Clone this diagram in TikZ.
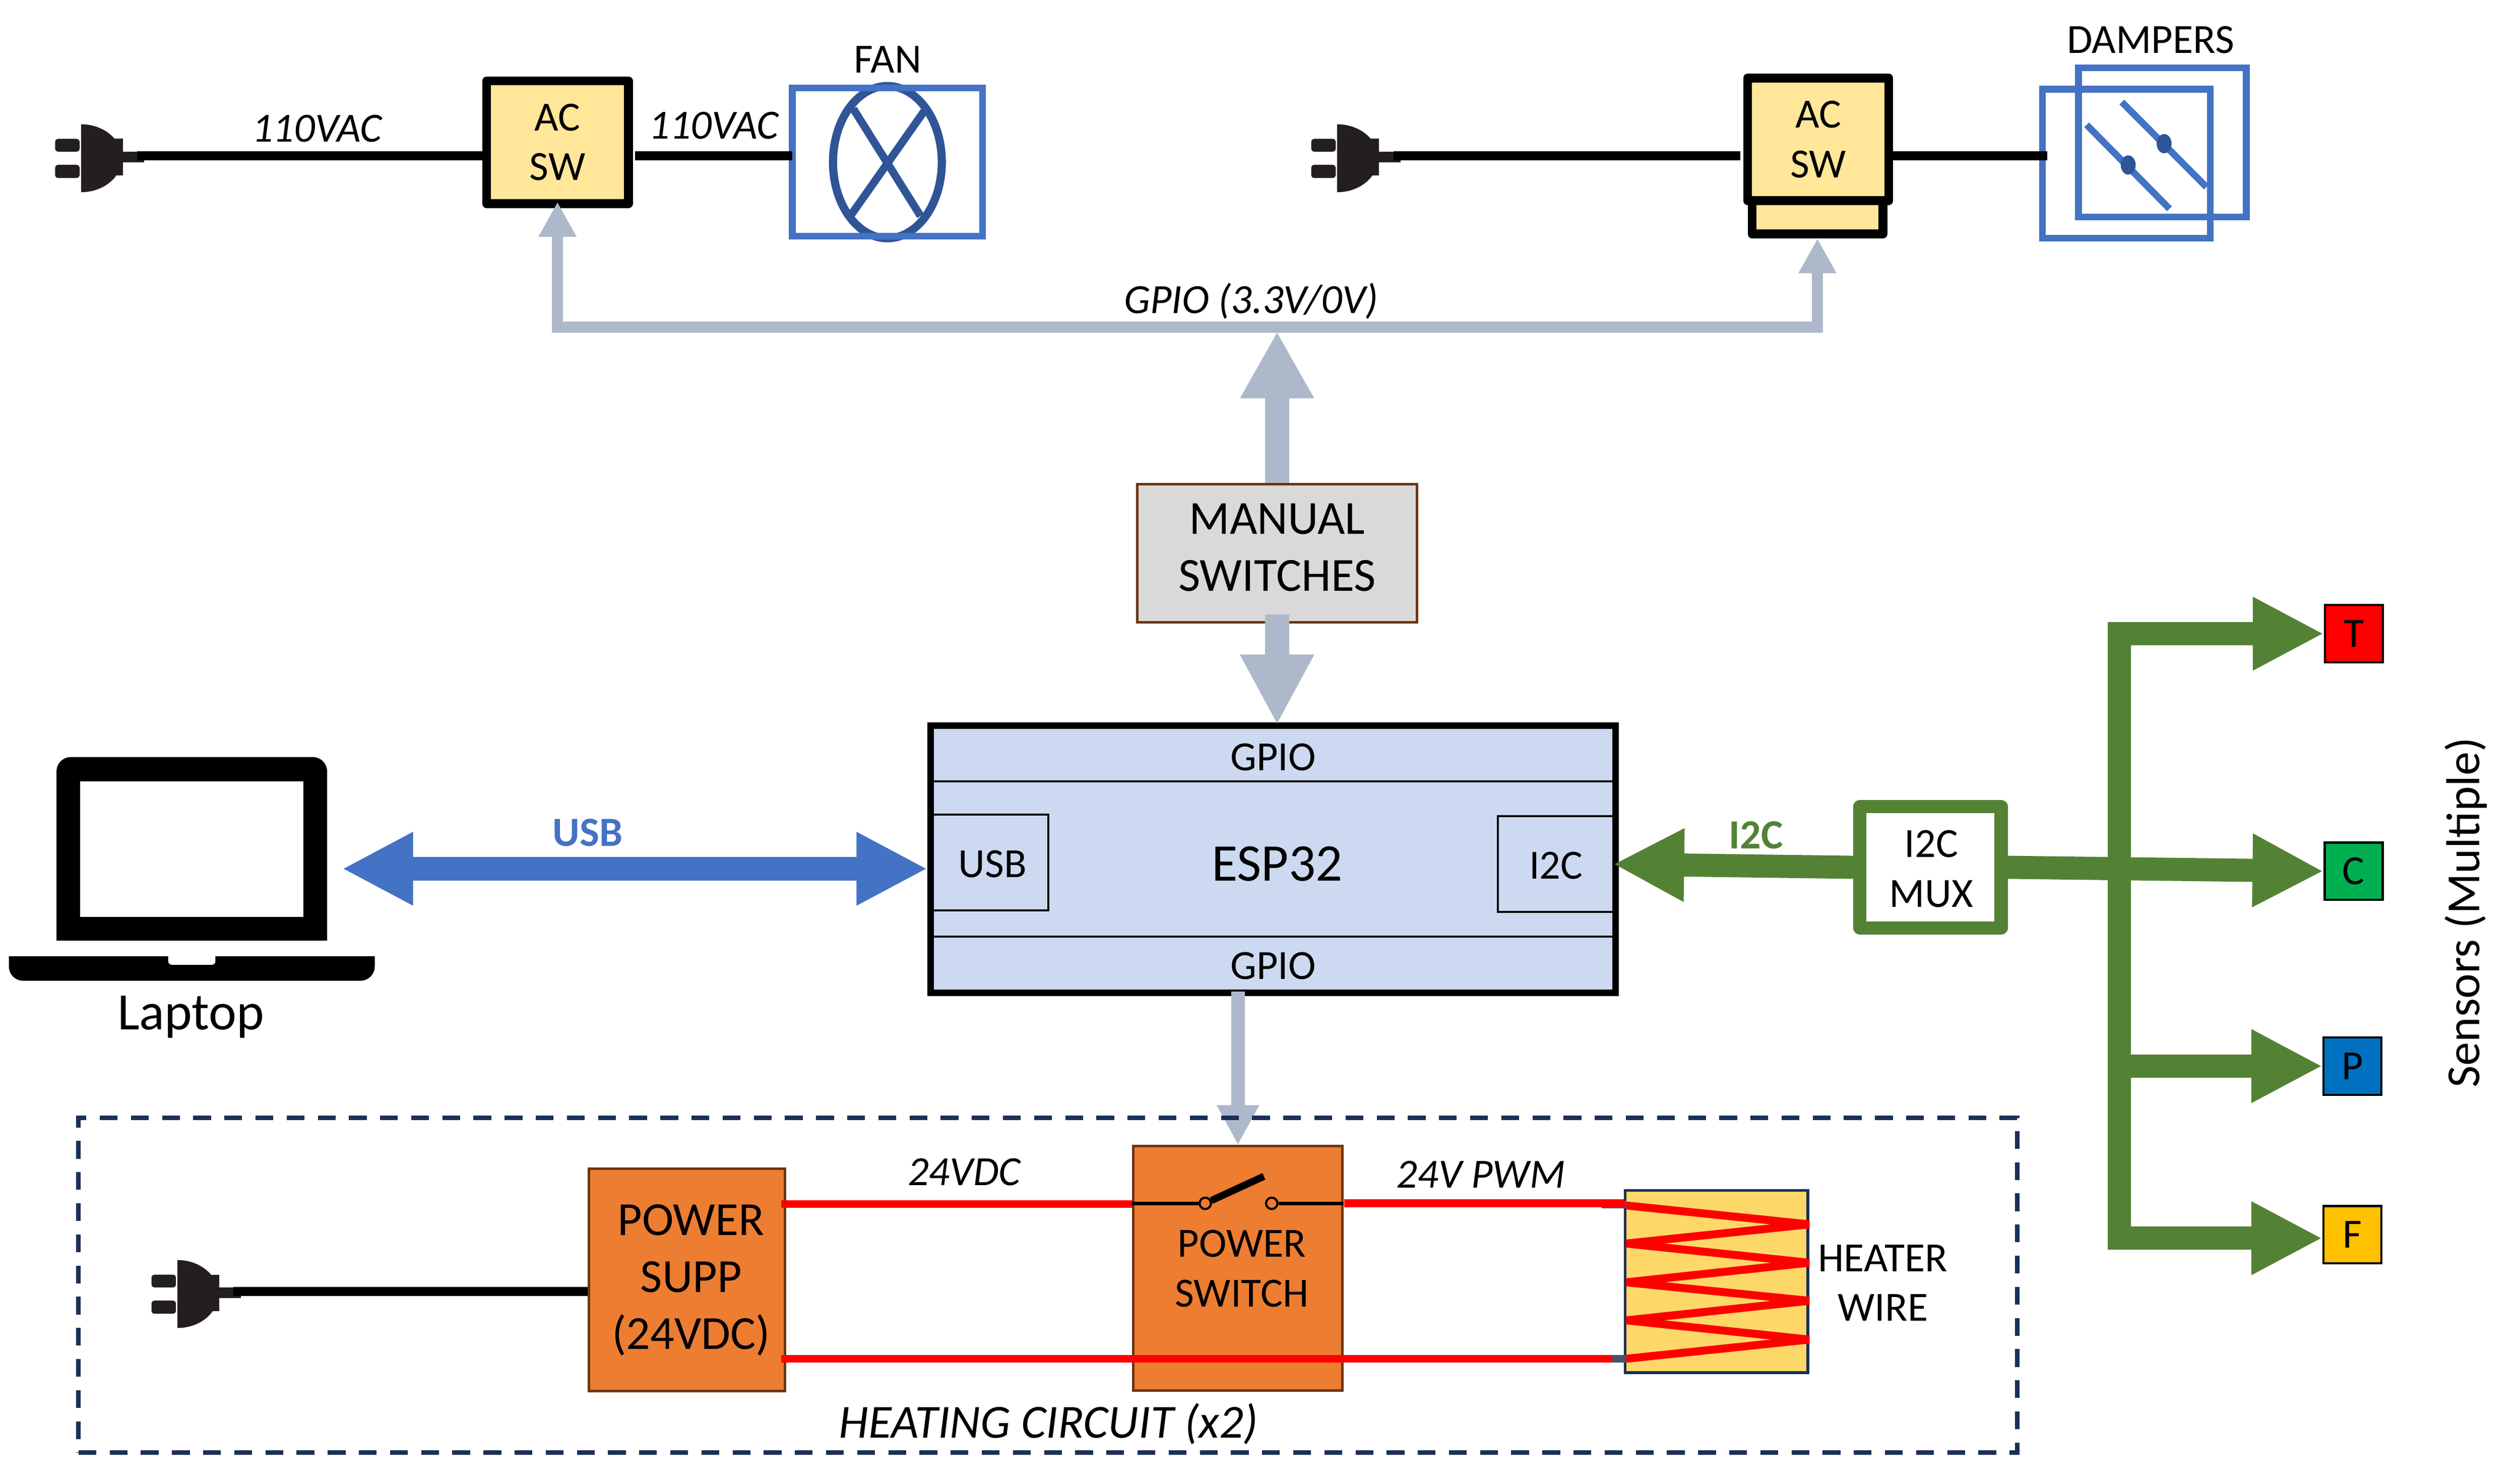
\documentclass[tikz,border=0pt]{standalone}
\usepackage{fontspec}
\setmainfont{Carlito}
\usepackage{xcolor}
\usetikzlibrary{arrows.meta}
\definecolor{swfill}{HTML}{FFE699}
\definecolor{fanblue}{HTML}{4472C4}
\definecolor{fandark}{HTML}{2F5597}
\definecolor{gpiogray}{HTML}{ADB9CA}
\definecolor{espfill}{HTML}{CDD9F0}
\definecolor{boxbrown}{HTML}{6B3610}
\definecolor{orangebox}{HTML}{ED7D31}
\definecolor{i2cgreen}{HTML}{548235}
\definecolor{navy}{HTML}{1B2F57}
\definecolor{heatfill}{HTML}{FDD868}
\definecolor{stubgray}{HTML}{44546A}
\definecolor{plugblack}{HTML}{231F20}
\definecolor{senCfill}{HTML}{00B050}
\definecolor{senPfill}{HTML}{0070C0}
\definecolor{senFfill}{HTML}{FFC000}
\tikzset{plug/.pic={
        \fill[plugblack, rounded corners=0.4mm] (-0.365,0.2375) rectangle (-0.02,0.0575);
        \fill[plugblack, rounded corners=0.4mm] (-0.365,-0.1275) rectangle (-0.02,-0.3125);
        \fill[plugblack] (0,0.4425) arc (90:-90:0.575 and 0.4775) -- cycle;
        \fill[plugblack] (0,0.2375) rectangle (0.59,-0.2775);
        \fill[plugblack] (0.59,0.0575) rectangle (0.89,-0.0925);
    }}

\begin{document}
\begin{tikzpicture}[every node/.style={inner sep=0pt, align=center, font=\fontsize{16.6}{19.9}\selectfont},
        bigtext/.style={font=\fontsize{19}{22.8}\selectfont},
        italictext/.style={anchor=base, font=\fontsize{16.6}{19.9}\selectfont\itshape},
        acsw/.style={draw, fill=swfill, line width=1.25mm, line join=round},
        frame/.style={draw=fanblue, line width=0.95mm},
        mains/.style={line width=1.25mm},
        espport/.style={draw, line width=0.28mm},
        brownbox/.style={draw=boxbrown, line width=0.35mm},
        sensor/.style={draw, line width=0.3mm, minimum width=0.815cm, minimum height=0.805cm},
        gpiobus/.style={draw=gpiogray, line width=1.6mm, -{Triangle[length=4.9mm, width=5mm]}},
        gpiobig/.style={draw=gpiogray, line width=3.4mm, -{Triangle[length=#1, width=9.7mm]}},
        usbarrow/.style={draw=fanblue, line width=3.35mm, {Triangle[length=10mm, width=9.6mm]}-{Triangle[length=10mm, width=9.6mm]}},
        i2carrow/.style={draw=i2cgreen, line width=3.25mm, -{Triangle[length=10mm, width=9.6mm]}},
        redwire/.style={draw=red, line width=1.1mm},
        stub/.style={draw=stubgray, line width=1.1mm},
        contact/.style={circle, draw, fill=orangebox, line width=0.3mm, minimum size=0.16cm}]
    \useasboundingbox (0,0) rectangle (35.44,-20.78);

    % fan branch
    \coordinate (plugA) at (1.14,-2.19);
    \pic at (plugA) {plug};
    \node[acsw, minimum width=1.995cm, minimum height=1.725cm] (acA) at (7.84,-2) {AC\\SW};
    \draw[fandark, line width=1.15mm] (12.48,-2.28) ellipse (0.765 and 1.07);
    \draw[fandark, line width=1.1mm] (12,-1.53) -- (12.945,-3.035);
    \draw[fandark, line width=1.1mm] (13.02,-1.53) -- (11.96,-3.035);
    \node[frame, minimum width=2.675cm, minimum height=2.085cm] (fan) at (12.48,-2.28) {};
    \draw[mains, shorten <=7.9mm] (plugA) -- (plugA -| acA.west);
    \draw[mains, shorten <=0.3mm, shorten >=-0.5mm] (plugA -| acA.east) -- (plugA -| fan.west);
    \node[italictext] (lineA) at (4.455,-1.995) {110VAC};
    \node[italictext] (lineB) at (10.035,-1.955) {110VAC};
    \node (fanlabel) at (12.485,-0.84) {FAN};

    % damper branch
    \coordinate (plugB) at (18.805,-2.19);
    \pic at (plugB) {plug};
    \node[acsw, minimum width=1.84cm, minimum height=0.49cm] (acBbase) at (25.56,-3.045) {};
    \node[acsw, minimum width=1.985cm, minimum height=1.725cm] (acB) at (25.57,-1.96) {AC\\SW};
    \node[frame, minimum width=2.36cm, minimum height=2.095cm] (dampBack) at (30.41,-2.0025) {};
    \node[frame, minimum width=2.36cm, minimum height=2.095cm] (dampFront) at (29.905,-2.3025) {};
    \draw[fanblue, line width=0.95mm] (29.84,-1.435) -- (31.03,-2.63);
    \draw[fanblue, line width=0.95mm] (29.345,-1.755) -- (30.51,-2.935);
    \fill[fandark] (30.435,-2.02) ellipse (0.105 and 0.135);
    \fill[fandark] (29.93,-2.32) ellipse (0.105 and 0.135);
    \draw[mains, shorten <=7.9mm, shorten >=0.4mm] (plugB) -- (plugB -| acB.west);
    \draw[mains, shorten >=-1.15mm] (plugB -| acB.east) -- (plugB -| dampFront.west);
    \node (damperlabel) at (30.245,-0.56) {DAMPERS};

    % controller
    \node[draw, fill=espfill, line width=0.9mm, minimum width=9.63cm, minimum height=3.755cm] (esp) at (17.905,-12.08) {};
    \draw[espport] (esp.west |- 0,-10.985) -- (esp.east |- 0,-10.985);
    \draw[espport] (esp.west |- 0,-13.17) -- (esp.east |- 0,-13.17);
    \node[espport, minimum width=1.63cm, minimum height=1.345cm] (usbport) at (13.93,-12.1275) {};
    \node[espport, minimum width=1.635cm, minimum height=1.345cm] (i2cport) at (21.8825,-12.1475) {};
    \node (usbtext) at (13.96,-12.15) {USB};
    \node (i2ctext) at (21.8825,-12.17) {I2C};
    \node[font=\fontsize{21.2}{25}\selectfont] (esplabel) at (17.96,-12.145) {ESP32};
    \node (gpiotop) at (17.905,-10.645) {GPIO};
    \node (gpiobot) at (17.905,-13.58) {GPIO};

    % manual switches and gpio lines
    \node[brownbox, fill=black!15, minimum width=3.93cm, minimum height=1.94cm] (manual) at (17.96,-7.78) {};
    \node[bigtext] (manuallabel) at (17.96,-7.695) {MANUAL\\SWITCHES};
    \coordinate (busC) at (17.96,-4.6);
    \draw[gpiobus, shorten >=-0.85mm] (busC) -| (acA.south);
    \draw[gpiobus] (busC) -| (acBbase.south);
    \draw[gpiobig=9.4mm, shorten >=0.6mm] (manual.north) -- (busC);
    \draw[gpiobig=9.9mm, shorten <=-1.25mm, shorten >=-0.35mm] (manual.south) -- (manual.south |- esp.north);
    \node[italictext] (gpiolabel) at (17.595,-4.405) {GPIO (3.3V/0V)};

    % laptop
    \fill (0.795,-13.225) [rounded corners=2mm] -- (0.795,-10.645) -- (4.6,-10.645) [sharp corners] -- (4.6,-13.225) -- cycle;
    \fill[white] (1.13,-10.985) rectangle (4.265,-12.89);
    \fill (0.125,-13.445) [rounded corners=2mm] -- (0.125,-13.79) -- (5.27,-13.79) [sharp corners] -- (5.27,-13.445) -- cycle;
    \fill[white, rounded corners=0.5mm] (2.365,-13.3) rectangle (3.03,-13.565);
    \node[anchor=base, font=\fontsize{21}{25}\selectfont] (laptop) at (2.685,-14.475) {Laptop};
    \coordinate (usbL) at (4.81,-12.215);
    \draw[usbarrow] (usbL) -- (usbL -| esp.west);
    \node[font=\fontsize{16.6}{19.9}\selectfont\bfseries, text=fanblue] (usblabel) at (8.265,-11.71) {USB};

    % sensors
    \node[draw=i2cgreen, fill=white, line width=1.85mm, line join=round, minimum width=1.985cm, minimum height=1.71cm] (mux) at (27.15,-12.195) {};
    \node (muxlabel) at (27.16,-12.215) {I2C\\MUX};
    \node[sensor, fill=red] (senT) at (33.105,-8.91) {T};
    \node[sensor, fill=senCfill] (senC) at (33.10,-12.25) {C};
    \node[sensor, fill=senPfill] (senP) at (33.085,-14.99) {P};
    \node[sensor, fill=senFfill] (senF) at (33.085,-17.36) {F};
    \coordinate (i2cEnd) at (22.685,-12.15);
    \coordinate (busX) at (29.805,-13.5);
    \draw[i2carrow] (mux.west) -- (i2cEnd);
    \draw[i2carrow] (mux.east) -- (senC.west);
    \draw[i2carrow, {Triangle[length=10mm, width=9.6mm]}-{Triangle[length=10mm, width=9.6mm]}] (senT.west) -| (busX) |- ([yshift=-0.05cm]senF.west);
    \draw[i2carrow] (busX |- senP.west) -- (senP.west);
    \node[font=\fontsize{16.6}{19.9}\selectfont\bfseries, text=i2cgreen] (i2clabel) at (24.695,-11.74) {I2C};
    \node[bigtext, anchor=base, rotate=90] (sensorlabel) at (34.87,-12.83) {Sensors (Multiple)};

    % heating circuit
    \coordinate (plugC) at (2.495,-18.16);
    \pic at (plugC) {plug};
    \node[brownbox, fill=orangebox, minimum width=2.76cm, minimum height=3.125cm] (psu) at (9.66,-17.995) {};
    \node[bigtext] (psulabel) at (9.72,-18.0) {POWER\\SUPP\\(24VDC)};
    \node[brownbox, fill=orangebox, minimum width=2.94cm, minimum height=3.435cm] (pwrsw) at (17.41,-17.835) {};
    \node (pwrswlabel) at (17.465,-17.835) {POWER\\SWITCH};
    \node[draw=navy, fill=heatfill, line width=0.4mm, minimum width=2.57cm, minimum height=2.565cm] (heater) at (24.14,-18.02) {};
    \draw[mains, shorten <=7.9mm] (plugC) -- (plugC -| psu.west);

    \coordinate (dcTop) at (10.985,-16.93);
    \coordinate (dcBot) at (10.985,-19.105);
    \coordinate (pwmTop) at (18.9,-16.9175);
    \coordinate (retEnd) at (22.675,-19.105);
    \draw[redwire] (dcTop) -- (dcTop -| pwrsw.west);
    \draw[stub] (22.525,-16.935) -- (22.87,-16.935);
    \draw[stub] (retEnd) ++(-0.15,0) -- (22.87,-19.105);
    \draw[redwire] (pwmTop) -- (22.85,-16.9175);
    \draw[redwire] (dcBot) -- (retEnd);
    \draw[red, line width=1.12mm, line join=bevel] (22.87,-16.95) -- (25.445,-17.215) -- (22.87,-17.485) -- (25.445,-17.755) -- (22.87,-18.03) -- (25.445,-18.29) -- (22.87,-18.565) -- (25.445,-18.835) -- (22.87,-19.105);

    % switch symbol
    \node[contact] (swL) at (16.95,-16.92) {};
    \node[contact] (swR) at (17.885,-16.92) {};
    \coordinate (swTip) at (17.775,-16.54);
    \draw[line width=0.5mm] (swL -| pwrsw.west) -- (swL);
    \draw[line width=0.5mm] (swR) -- (swR -| pwrsw.east);
    \draw[line width=1mm] (swL) -- (swTip);

    \draw[draw=gpiogray, line width=1.9mm, -{Triangle[length=5.6mm, width=5.55mm]}, shorten <=-0.6mm] (pwrsw.north |- esp.south) -- (pwrsw.north);
    \node[draw=navy, line width=0.625mm, dash pattern=on 2.5mm off 1.88mm, minimum width=27.265cm, minimum height=4.71cm] (heatbox) at (14.7375,-18.07) {};

    \node[italictext] (dclabel) at (13.56,-16.67) {24VDC};
    \node[italictext] (pwmlabel) at (20.825,-16.70) {24V PWM};
    \node[anchor=base, font=\fontsize{19}{22.8}\selectfont\itshape] (heatlabel) at (14.745,-20.215) {HEATING CIRCUIT (x2)};
    \node (heaterlabel) at (26.48,-18.04) {HEATER\\WIRE};
\end{tikzpicture}
\end{document}
